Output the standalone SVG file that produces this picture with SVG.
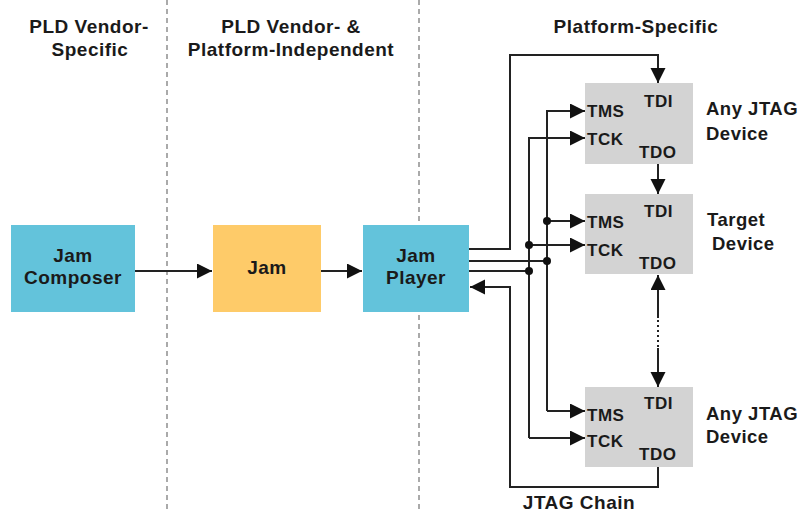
<svg xmlns="http://www.w3.org/2000/svg" width="804" height="513" viewBox="0 0 804 513">
<style>
text{font-family:"Liberation Sans",Arial,Helvetica,sans-serif;font-weight:bold;fill:#1a1a1a;letter-spacing:0.5px}
.h{font-size:19px;text-anchor:middle}
.n{font-size:19px;text-anchor:middle}
.s{font-size:17px}
.d{font-size:18.5px}
.blue{fill:#63c3db}
.orange{fill:#fecb69}
.gray{fill:#d3d3d3}
.c{fill:none;stroke:#222;stroke-width:2}
.sep{stroke:#aaa;stroke-width:2;stroke-dasharray:5 4}
</style>
<defs>
<marker id="ah" markerUnits="userSpaceOnUse" markerWidth="16" markerHeight="16" refX="15" refY="7.5" orient="auto">
<path d="M0,0 L15,7.5 L0,15 z" fill="#111"/>
</marker>
</defs>
<rect width="804" height="513" fill="#fff"/>
<g id="separators">
<line class="sep" x1="167" y1="0" x2="167" y2="513"/>
<line class="sep" x1="419" y1="0" x2="419" y2="513"/>
</g>
<g id="headers">
<text class="h" x="89" y="33">PLD Vendor-</text>
<text class="h" x="90" y="56">Specific</text>
<text class="h" x="291" y="33">PLD Vendor- &amp;</text>
<text class="h" x="291" y="56">Platform-Independent</text>
<text class="h" x="636" y="33">Platform-Specific</text>
</g>
<g id="composer">
<rect class="blue" x="11" y="225" width="124" height="87"/>
<text class="n" x="73" y="262">Jam</text>
<text class="n" x="73" y="284">Composer</text>
</g>
<g id="jam">
<rect class="orange" x="213" y="225" width="108" height="87"/>
<text class="n" x="267" y="274">Jam</text>
</g>
<g id="player">
<rect class="blue" x="363" y="225" width="106" height="87"/>
<text class="n" x="416" y="262">Jam</text>
<text class="n" x="416" y="284">Player</text>
</g>
<g id="device1">
<rect class="gray" x="585" y="83" width="108" height="81"/>
<text class="s" x="644" y="107">TDI</text>
<text class="s" x="587" y="117">TMS</text>
<text class="s" x="587" y="145">TCK</text>
<text class="s" x="639" y="158">TDO</text>
<text class="d" x="706" y="115">Any JTAG</text>
<text class="d" x="706" y="140">Device</text>
</g>
<g id="device2">
<rect class="gray" x="585" y="194" width="108" height="80"/>
<text class="s" x="644" y="217">TDI</text>
<text class="s" x="587" y="228">TMS</text>
<text class="s" x="587" y="256">TCK</text>
<text class="s" x="639" y="269">TDO</text>
<text class="d" x="707" y="226">Target</text>
<text class="d" x="712" y="250">Device</text>
</g>
<g id="device3">
<rect class="gray" x="585" y="387" width="108" height="80"/>
<text class="s" x="644" y="409">TDI</text>
<text class="s" x="587" y="421">TMS</text>
<text class="s" x="587" y="447">TCK</text>
<text class="s" x="639" y="460">TDO</text>
<text class="d" x="706" y="420">Any JTAG</text>
<text class="d" x="706" y="443">Device</text>
</g>
<g id="connectors">
<path class="c" d="M135,271 H212" marker-end="url(#ah)"/>
<path class="c" d="M321,271 H362" marker-end="url(#ah)"/>
<path class="c" d="M469,249 H510 V55 H658 V83" marker-end="url(#ah)"/>
<path class="c" d="M658,164 V194" marker-end="url(#ah)"/>
<path class="c" d="M469,261 H547"/>
<path class="c" d="M469,271 H529"/>
<path class="c" d="M547,411 V111 H585" marker-end="url(#ah)"/>
<path class="c" d="M529,438 V138 H585" marker-end="url(#ah)"/>
<path class="c" d="M547,221 H585" marker-end="url(#ah)"/>
<path class="c" d="M529,245 H585" marker-end="url(#ah)"/>
<path class="c" d="M547,411 H585" marker-end="url(#ah)"/>
<path class="c" d="M529,438 H585" marker-end="url(#ah)"/>
<path class="c" d="M658,318 V275" marker-end="url(#ah)"/>
<path class="c" d="M658,320 V348" stroke-dasharray="2 3"/>
<path class="c" d="M658,348 V387" marker-end="url(#ah)"/>
<path class="c" d="M658,467 V487 H510 V287 H470" marker-end="url(#ah)"/>
<circle cx="547" cy="221" r="4" fill="#111"/>
<circle cx="529" cy="245" r="4" fill="#111"/>
<circle cx="547" cy="261" r="4" fill="#111"/>
<circle cx="529" cy="271" r="4" fill="#111"/>
</g>
<g id="chain-label">
<text class="h" x="579" y="509">JTAG Chain</text>
</g>
</svg>
